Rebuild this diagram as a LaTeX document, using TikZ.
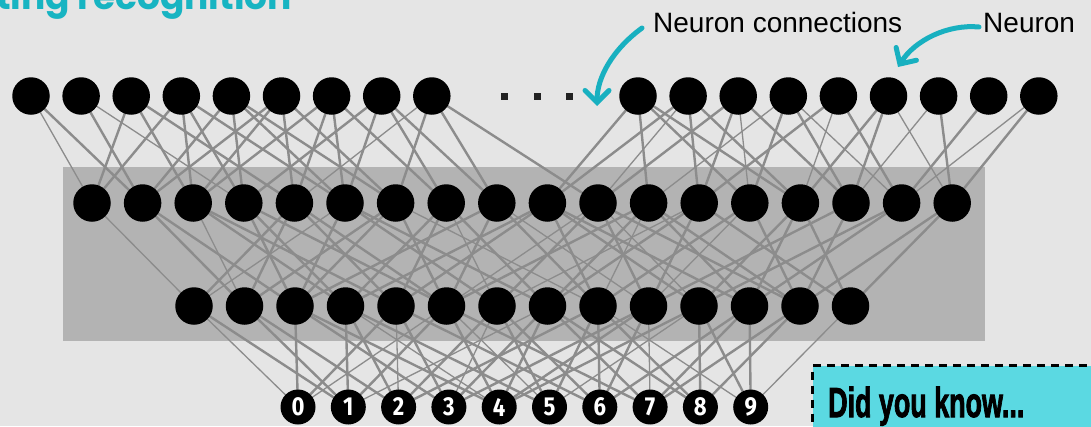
\documentclass[tikz,border=0pt]{standalone}
\usepackage{fontspec}
\setmainfont{Liberation Sans}
\newfontfamily\titlefont{Poppins}
\newfontfamily\digitfont{Fira Sans}
\newfontfamily\didfont[BoldFeatures={FakeBold=2.5}]{Liberation Sans}
\usetikzlibrary{arrows.meta}
\pgfdeclarelayer{bg}
\pgfsetlayers{bg,main}
\definecolor{bggray}{HTML}{E5E5E5}
\definecolor{panelgray}{HTML}{B3B3B3}
\definecolor{linegray}{HTML}{8C8C8C}
\definecolor{tealA}{HTML}{18B0C0}
\definecolor{tealT}{HTML}{17B4C2}
\definecolor{boxteal}{HTML}{5BD9E2}
\definecolor{dotgray}{HTML}{222222}
\tikzset{
  neuron/.style={circle, fill=black, minimum size=37.5pt, inner sep=0pt},
  digitnode/.style={circle, fill=black, minimum size=35pt, inner sep=0pt, text=white, font=\digitfont\bfseries\fontsize{26}{26}\selectfont},
  conn/.style={draw=linegray, line width=1.3pt},
  connthick/.style={draw=linegray, line width=2.4pt},
  callout/.style={draw=tealA, line width=5pt, line cap=round, -{Straight Barb[length=12pt,width=24pt,line cap=round]}},
  lbltext/.style={anchor=base west, inner sep=0pt, font=\fontsize{28}{28}\selectfont},
  dotsq/.style={fill=dotgray, minimum size=7pt, inner sep=0pt},
}
\begin{document}
\begin{tikzpicture}[x=1pt,y=-1pt]
\useasboundingbox (0,0) rectangle (1091,426);
% title (cut off at top, as in the reference)
\node[anchor=base west, inner sep=0pt, text=tealT, font=\titlefont\bfseries\fontsize{36}{36}\selectfont] (title) at (-4,9) {ting recognition};
% neurons
\foreach \i in {0,...,8} \node[neuron] (T\i) at ({31+50.1*\i},96) {};
\foreach \i in {9,...,17} \node[neuron] (T\i) at ({638+50.1*(\i-9)},96) {};
\foreach \j in {0,...,17} \node[neuron] (A\j) at ({92+50.6*\j},203) {};
\foreach \k in {0,...,13} \node[neuron] (B\k) at ({194+50.5*\k},306) {};
\foreach \m in {0,...,9} \node[digitnode] (D\m) at ({298+50.3*\m},407) {\scalebox{0.85}[1]{\m}};
% dots
\node[dotsq] (dot1) at (504,96) {};
\node[dotsq] (dot2) at (537,96) {};
\node[dotsq] (dot3) at (569,96) {};
% labels and callouts
\node[lbltext] (lblconn) at (653,32) {Neuron connections};
\node[lbltext] (lblneur) at (983,32) {Neuron};
\coordinate (c1s) at (642,28);
\coordinate (c1t) at (597,106);
\coordinate (c2s) at (979,27);
\coordinate (c2t) at (898,67);
\draw[callout] (c1s) .. controls (612,50) and (597,78) .. (c1t);
\draw[callout] (c2s) .. controls (948,24) and (915,40) .. (c2t);
% did you know box
\node[draw=black, fill=boxteal, dash pattern=on 8pt off 6pt, line width=3pt, anchor=north west, minimum width=300pt, minimum height=80pt, inner sep=0pt] (didbox) at (811,364) {};
\node[anchor=base west, inner sep=0pt, font=\didfont\bfseries\fontsize{42}{42}\selectfont] (didtxt) at (828,417) {\scalebox{0.64}[1]{Did you know...}};
% background and connections
\begin{pgfonlayer}{bg}
\fill[bggray] (0,0) rectangle (1091,426);
\fill[panelgray] (63,167) rectangle (985,341);
\foreach \i in {0,...,17}{
  \foreach \j in {0,...,17}{
    \pgfmathsetmacro\xa{(\i<9) ? (31+50.1*\i) : (638+50.1*(\i-9))}
    \pgfmathsetmacro\xb{92+50.6*\j}
    \pgfmathtruncatemacro\ok{(abs(\xa-\xb)<175) && (mod(\i*5+\j*3,7)<4)}
    \pgfmathtruncatemacro\th{mod(\i*2+\j,5)==0}
    \ifnum\ok=1
      \ifnum\th=1 \draw[conn] (T\i.center) -- (A\j.center); \else \draw[connthick] (T\i.center) -- (A\j.center); \fi
    \fi
  }
}
\foreach \j in {0,...,17}{
  \foreach \k in {0,...,13}{
    \pgfmathsetmacro\xa{92+50.6*\j}
    \pgfmathsetmacro\xb{194+50.5*\k}
    \pgfmathtruncatemacro\ok{(abs(\xa-\xb)<230) && (abs(\xa-\xb)>20) && (mod(\j*4+\k*5+1,7)<4)}
    \pgfmathtruncatemacro\th{mod(\j+\k*3,5)==0}
    \ifnum\ok=1
      \ifnum\th=1 \draw[conn] (A\j.center) -- (B\k.center); \else \draw[connthick] (A\j.center) -- (B\k.center); \fi
    \fi
  }
}
\foreach \k in {0,...,13}{
  \foreach \m in {0,...,9}{
    \pgfmathsetmacro\xa{194+50.5*\k}
    \pgfmathsetmacro\xb{298+50.3*\m}
    \pgfmathtruncatemacro\ok{(abs(\xa-\xb)<205) && (mod(\k*3+\m*5+2,7)<4)}
    \pgfmathtruncatemacro\th{mod(\k*2+\m,5)==0}
    \ifnum\ok=1
      \ifnum\th=1 \draw[conn] (B\k.center) -- (D\m.center); \else \draw[connthick] (B\k.center) -- (D\m.center); \fi
    \fi
  }
}
\end{pgfonlayer}
\end{tikzpicture}
\end{document}
